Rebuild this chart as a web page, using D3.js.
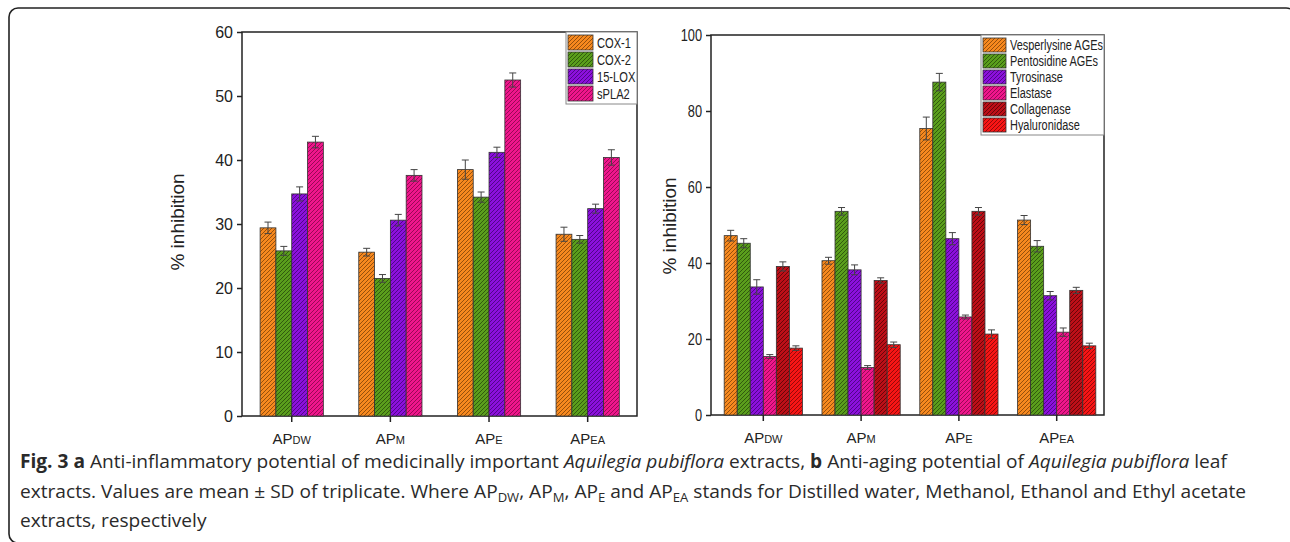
<!DOCTYPE html>
<html>
<head>
<meta charset="utf-8">
<script src="https://cdn.jsdelivr.net/npm/d3@7"></script>
<style>
  body { margin: 0; background: #fff; }
  svg { display: block; }
</style>
</head>
<body>
<div id="chart"></div>
<script>
// extracts on the x axis (AP + subscript)
const extracts = ["DW", "M", "E", "EA"];

// panel a: anti-inflammatory
const inflamNames = ["COX-1", "COX-2", "15-LOX", "sPLA2"];
const cox1 = [29.4, 25.6, 38.5, 28.4];
const cox1Sd = [0.9, 0.6, 1.5, 1.1];
const cox2 = [25.8, 21.5, 34.2, 27.6];
const cox2Sd = [0.7, 0.6, 0.8, 0.6];
const lox15 = [34.7, 30.6, 41.2, 32.4];
const lox15Sd = [1.1, 0.9, 0.8, 0.7];
const spla2 = [42.8, 37.6, 52.5, 40.4];
const spla2Sd = [0.9, 0.9, 1.1, 1.2];
const inflamTicks = [0, 10, 20, 30, 40, 50, 60];

// panel b: anti-aging
const agingNames = ["Vesperlysine AGEs", "Pentosidine AGEs", "Tyrosinase", "Elastase", "Collagenase", "Hyaluronidase"];
const vesperlysine = [47.2, 40.6, 75.4, 51.3];
const vesperlysineSd = [1.4, 0.9, 3.0, 1.2];
const pentosidine = [45.2, 53.6, 87.6, 44.4];
const pentosidineSd = [1.2, 1.0, 2.3, 1.5];
const tyrosinase = [33.7, 38.2, 46.4, 31.4];
const tyrosinaseSd = [1.9, 1.3, 1.6, 1.1];
const elastase = [15.4, 12.5, 25.8, 21.8];
const elastaseSd = [0.5, 0.5, 0.5, 1.1];
const collagenase = [39.1, 35.4, 53.6, 32.8];
const collagenaseSd = [1.2, 0.7, 1.0, 0.8];
const hyaluronidase = [17.6, 18.5, 21.3, 18.2];
const hyaluronidaseSd = [0.6, 0.7, 1.1, 0.7];
const agingTicks = [0, 20, 40, 60, 80, 100];

// fill / hatch colours
var hatch = {
  orange: ["#f7891f", "#8b4a0a"],
  green: ["#5a9e1c", "#2c520c"],
  purple: ["#8c10dc", "#4a0580"],
  pink: ["#f0168c", "#900850"],
  darkred: ["#bd0f18", "#5e0508"],
  red: ["#f81515", "#8a0808"]
};

var W = 1290, H = 542;
var svg = d3.select("#chart").append("svg")
  .attr("width", W)
  .attr("height", H);

var defs = svg.append("defs");
Object.keys(hatch).forEach(function (k) {
  var p = defs.append("pattern")
    .attr("id", "hatch-" + k)
    .attr("patternUnits", "userSpaceOnUse")
    .attr("width", 4)
    .attr("height", 4);
  p.append("rect").attr("width", 4).attr("height", 4).attr("fill", hatch[k][0]);
  p.append("path")
    .attr("d", "M-1,1 l2,-2 M0,4 l4,-4 M3,5 l2,-2")
    .attr("stroke", hatch[k][1])
    .attr("stroke-width", 0.9);
});

// figure box
svg.append("path")
  .attr("d", "M1290,9 Q1289,8 1286,8 H18 A9,9 0 0 0 9,17 V534 A9,9 0 0 0 18,543")
  .attr("fill", "none")
  .attr("stroke", "#222")
  .attr("stroke-width", 1.6);

var chartFont = "'Liberation Sans', Arial, sans-serif";

function drawPanel(cfg) {
  var g = svg.append("g");

  var y = d3.scaleLinear().domain([0, cfg.ymax]).range([cfg.bottom, cfg.top]);
  var x = d3.scaleBand().domain(extracts).range(cfg.band).paddingInner(0).paddingOuter(0);
  var groupW = x.bandwidth() * cfg.groupFrac;
  var xs = d3.scaleBand().domain(d3.range(cfg.series.length)).range([0, groupW]);

  // frame
  g.append("rect")
    .attr("x", cfg.left).attr("y", cfg.top)
    .attr("width", cfg.right - cfg.left).attr("height", cfg.bottom - cfg.top)
    .attr("fill", "none").attr("stroke", "#222").attr("stroke-width", 1.5);

  // bars
  cfg.series.forEach(function (s, si) {
    var bars = g.append("g");
    extracts.forEach(function (e, ei) {
      var bx = x(e) + (x.bandwidth() - groupW) / 2 + xs(si);
      var v = s.values[ei], sd = s.sd[ei];
      bars.append("rect")
        .attr("x", bx).attr("y", y(v))
        .attr("width", xs.bandwidth()).attr("height", y(0) - y(v))
        .attr("fill", "url(#hatch-" + s.color + ")")
        .attr("stroke", "#333").attr("stroke-width", 0.8);
      var cx = bx + xs.bandwidth() / 2;
      var eb = bars.append("g").attr("stroke", "#444").attr("stroke-width", 1);
      eb.append("line").attr("x1", cx).attr("x2", cx).attr("y1", y(v - sd)).attr("y2", y(v + sd));
      eb.append("line").attr("x1", cx - 3.5).attr("x2", cx + 3.5).attr("y1", y(v + sd)).attr("y2", y(v + sd));
      eb.append("line").attr("x1", cx - 3.5).attr("x2", cx + 3.5).attr("y1", y(v - sd)).attr("y2", y(v - sd));
    });
  });

  // y axis
  var yAxis = g.append("g")
    .attr("transform", "translate(" + cfg.left + ",0)")
    .call(d3.axisLeft(y).tickValues(cfg.ticks).tickSize(5).tickPadding(4).tickFormat(d3.format("d")));
  yAxis.select(".domain").remove();
  yAxis.selectAll("line").attr("stroke", "#222").attr("stroke-width", 1.5);
  yAxis.selectAll("text")
    .attr("font-family", chartFont).attr("font-size", cfg.tickSize).attr("fill", "#222")
    .attr("x", -9 / cfg.tickSquash)
    .attr("transform", "scale(" + cfg.tickSquash + ",1)");

  // x axis ticks + labels
  var xAxis = g.append("g")
    .attr("transform", "translate(0," + cfg.bottom + ")")
    .call(d3.axisBottom(x).tickSize(6).tickFormat(""));
  xAxis.select(".domain").remove();
  xAxis.selectAll("line").attr("stroke", "#222").attr("stroke-width", 1.5);
  xAxis.selectAll(".tick").append("text")
    .attr("y", 28)
    .attr("text-anchor", "middle")
    .attr("font-family", chartFont)
    .attr("fill", "#222")
    .each(function (d) {
      var t = d3.select(this);
      t.append("tspan").attr("font-size", 15).text("AP");
      t.append("tspan").attr("font-size", 11).text(d);
    });

  // y title
  g.append("text")
    .attr("transform", "translate(" + cfg.titleX + "," + cfg.titleY + ") rotate(-90)")
    .attr("text-anchor", "middle")
    .attr("font-family", chartFont)
    .attr("font-size", 19)
    .attr("fill", "#222")
    .text("% inhibition");

  // legend
  var L = cfg.legend;
  var lg = g.append("g").attr("transform", "translate(" + L.x + "," + L.y + ")");
  lg.append("rect")
    .attr("width", L.w).attr("height", L.pitch * cfg.series.length + 4)
    .attr("fill", "#fff").attr("stroke", "#888").attr("stroke-width", 1);
  var labels = [];
  cfg.series.forEach(function (s, i) {
    var row = lg.append("g").attr("transform", "translate(2," + (3 + i * L.pitch) + ")");
    row.append("rect")
      .attr("width", L.sw).attr("height", L.pitch - 2)
      .attr("fill", "url(#hatch-" + s.color + ")")
      .attr("stroke", "#333").attr("stroke-width", 0.8);
    labels.push(row.append("text")
      .attr("y", (L.pitch - 2) / 2)
      .attr("dy", "0.36em")
      .attr("font-family", chartFont)
      .attr("font-size", L.fs)
      .attr("fill", "#222")
      .text(s.name));
  });
  // legend text in the source is a narrow face: squeeze to the measured width
  var f = L.firstW / labels[0].node().getComputedTextLength();
  labels.forEach(function (t) {
    t.attr("x", (L.sw + 4) / f).attr("transform", "scale(" + f + ",1)");
  });
}

drawPanel({
  left: 242, right: 637, top: 32, bottom: 416,
  band: [242.4, 637], groupFrac: 0.641,
  ymax: 60, ticks: inflamTicks,
  tickSize: 16, tickSquash: 1,
  titleX: 184, titleY: 222,
  series: [
    { name: inflamNames[0], values: cox1, sd: cox1Sd, color: "orange" },
    { name: inflamNames[1], values: cox2, sd: cox2Sd, color: "green" },
    { name: inflamNames[2], values: lox15, sd: lox15Sd, color: "purple" },
    { name: inflamNames[3], values: spla2, sd: spla2Sd, color: "pink" }
  ],
  legend: { x: 566, y: 32, w: 71, pitch: 17, sw: 25, fs: 15.5, firstW: 34 }
});

drawPanel({
  left: 711, right: 1104, top: 35, bottom: 415,
  band: [714.4, 1105.6], groupFrac: 0.80,
  ymax: 100, ticks: agingTicks,
  tickSize: 16, tickSquash: 0.8,
  titleX: 676, titleY: 226,
  series: [
    { name: agingNames[0], values: vesperlysine, sd: vesperlysineSd, color: "orange" },
    { name: agingNames[1], values: pentosidine, sd: pentosidineSd, color: "green" },
    { name: agingNames[2], values: tyrosinase, sd: tyrosinaseSd, color: "purple" },
    { name: agingNames[3], values: elastase, sd: elastaseSd, color: "pink" },
    { name: agingNames[4], values: collagenase, sd: collagenaseSd, color: "darkred" },
    { name: agingNames[5], values: hyaluronidase, sd: hyaluronidaseSd, color: "red" }
  ],
  legend: { x: 981, y: 35, w: 123, pitch: 16, sw: 23, fs: 15, firstW: 93 }
});

// caption
var cap = svg.append("g")
  .attr("font-family", "'Open Sans', 'Noto Sans', sans-serif")
  .attr("font-size", 19)
  .attr("fill", "#2a2a2a");

var capLines = [
  [["b", "Fig. 3 a"], ["", " Anti-inflammatory potential of medicinally important "], ["i", "Aquilegia pubiflora"],
   ["", " extracts, "], ["b", "b"], ["", " Anti-aging potential of "], ["i", "Aquilegia pubiflora"], ["", " leaf"]],
  [["", "extracts. Values are mean \u00b1 SD of triplicate. Where AP"], ["s", "DW"], ["", ", AP"], ["s", "M"],
   ["", ", AP"], ["s", "E"], ["", " and AP"], ["s", "EA"], ["", " stands for Distilled water, Methanol, Ethanol and Ethyl acetate"]],
  [["", "extracts, respectively"]]
];
var capBase = [468, 498, 527];

var capTexts = capLines.map(function (parts, li) {
  var t = cap.append("text").attr("x", 0).attr("y", 0)
    .attr("transform", "translate(20," + capBase[li] + ")");
  var lowered = false;
  parts.forEach(function (p) {
    var ts = t.append("tspan").text(p[1]);
    if (p[0] === "b") ts.attr("font-weight", 700);
    if (p[0] === "i") ts.attr("font-style", "italic");
    if (p[0] === "s") { ts.attr("font-size", 13).attr("dy", 4); lowered = true; }
    else if (lowered) { ts.attr("dy", -4); lowered = false; }
  });
  return t;
});

// caption font is condensed: squeeze horizontally to the measured line width
var natural = capTexts[0].node().getComputedTextLength();
var sx = 1208 / natural;
capTexts.forEach(function (t, li) {
  t.attr("transform", "translate(20," + capBase[li] + ") scale(" + sx + ",1)");
});
</script>
</body>
</html>
